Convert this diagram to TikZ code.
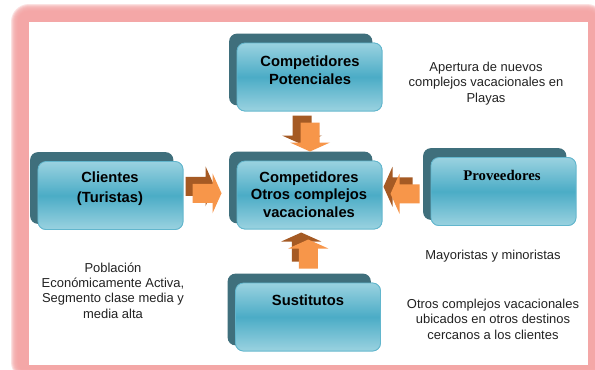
\documentclass[tikz,border=0pt]{standalone}
\usepackage{fontspec}
\setmainfont{Liberation Sans}
\newfontfamily\serifface{Liberation Serif}
\usetikzlibrary{calc}
\definecolor{pinkframe}{HTML}{F4A4A4}
\definecolor{backteal}{HTML}{3F6F7C}
\definecolor{tealmid}{HTML}{4BACC6}
\definecolor{teallight}{HTML}{9AD2E0}
\definecolor{tealedge}{HTML}{62B6CD}
\definecolor{arroworange}{HTML}{F7964A}
\definecolor{arrowbrown}{HTML}{A55A24}
\definecolor{anntext}{HTML}{222222}
\tikzset{
  frontbox/.style={rounded corners=8bp, draw=tealedge, line width=0.8bp,
    top color=teallight, bottom color=teallight, middle color=tealmid,
    minimum width=145bp, minimum height=68bp, inner sep=0pt},
  backbox/.style={fill=backteal, rounded corners=8bp},
  boxtxt/.style={align=center, text=black, inner sep=0pt,
    font=\fontsize{14.8}{18.5}\selectfont\bfseries},
  anntxt/.style={align=center, text=anntext, inner sep=0pt,
    font=\fontsize{13}{15.5}\selectfont},
  pics/blockarrow/.style={code={
    \fill[#1] (-14.5,-9.5) -- (5.5,-9.5) -- (5.5,-20) -- (14.5,0) -- (5.5,20) -- (5.5,9.5) -- (-14.5,9.5) -- cycle;}}
}
\begin{document}
\begin{tikzpicture}[x=1bp,y=-1bp]
\useasboundingbox (0,0) rectangle (595,369);
\clip (0,0) rectangle (595,369);
\fill[white] (0,0) rectangle (595,369);
% pink frame with soft edge
\foreach \i in {0,1,...,7}{
  \fill[pinkframe, opacity=0.32, rounded corners={18bp-\i bp}] ({11+\i},{4+\i}) rectangle ({605-\i},{380-\i});
}
\fill[white] (29,22) rectangle (588,365);

% boxes (front nodes)
\path node[frontbox] (pot) at (309.5,77) {}
      node[frontbox] (cli) at (110.5,195.5) {}
      node[frontbox] (ctr) at (309.5,195) {}
      node[frontbox] (prov) at (503.5,191.5) {}
      node[frontbox] (sus) at (308,317) {};
% back boxes
\foreach \b in {pot,cli,ctr,prov,sus}{
  \fill[backteal, rounded corners=8bp] ($(\b.north west)+(-7.5,-9)$) rectangle ($(\b.south east)+(-10,-6)$);
}
% redraw fronts on top
\path node[frontbox] at (pot) {}
      node[frontbox] at (cli) {}
      node[frontbox] at (ctr) {}
      node[frontbox] at (prov) {}
      node[frontbox] at (sus) {};

% box texts
\node[boxtxt] (potT) at (310,70.5) {Competidores\\Potenciales};
\node[boxtxt, font=\fontsize{14.8}{20.5}\selectfont\bfseries] (cliT) at (110,188.5) {Clientes\\(Turistas)};
\node[boxtxt, font=\fontsize{14.8}{17.5}\selectfont\bfseries] (ctrT) at (309,194.5) {Competidores\\Otros complejos\\vacacionales};
\node[boxtxt, font=\fontsize{14.8}{18}\selectfont\serifface\bfseries] (provT) at (502,175.5) {Proveedores};
\node[boxtxt] (susT) at (308,300) {Sustitutos};

% block arrows
\coordinate (aTop) at ($(pot.south)!0.5!(ctr.north)+(0.5,1)$);
\coordinate (aBot) at ($(ctr.south)!0.5!(sus.north)+(-0.5,-2)$);
\coordinate (aLeft) at ($(cli.east)!0.5!(ctr.west)+(-3,-2)$);
\coordinate (aRight) at ($(ctr.east)!0.5!(prov.west)+(-1.5,0.5)$);
\pic[rotate=-90] at ($(aTop)+(-8,-7)$) {blockarrow=arrowbrown};
\pic[rotate=-90] at (aTop) {blockarrow=arroworange};
\pic[rotate=90] at ($(aBot)+(-7,-7)$) {blockarrow=arrowbrown};
\pic[rotate=90] at (aBot) {blockarrow=arroworange};
\pic at ($(aLeft)+(-7,-7)$) {blockarrow=arrowbrown};
\pic at (aLeft) {blockarrow=arroworange};
\pic[rotate=180] at ($(aRight)+(-7,-7)$) {blockarrow=arrowbrown};
\pic[rotate=180] at (aRight) {blockarrow=arroworange};

% annotations
\node[anntxt] (ann1) at (486,83.5) {Apertura de nuevos\\complejos vacacionales en\\Playas};
\node[anntxt] (ann2) at (113,290.5) {Población\\Económicamente Activa,\\Segmento clase media y\\media alta};
\node[anntxt] (ann3) at (493,256) {Mayoristas y minoristas};
\node[anntxt] (ann4) at (493,319) {Otros complejos vacacionales\\ubicados en otros destinos\\cercanos a los clientes};
\end{tikzpicture}
\end{document}
